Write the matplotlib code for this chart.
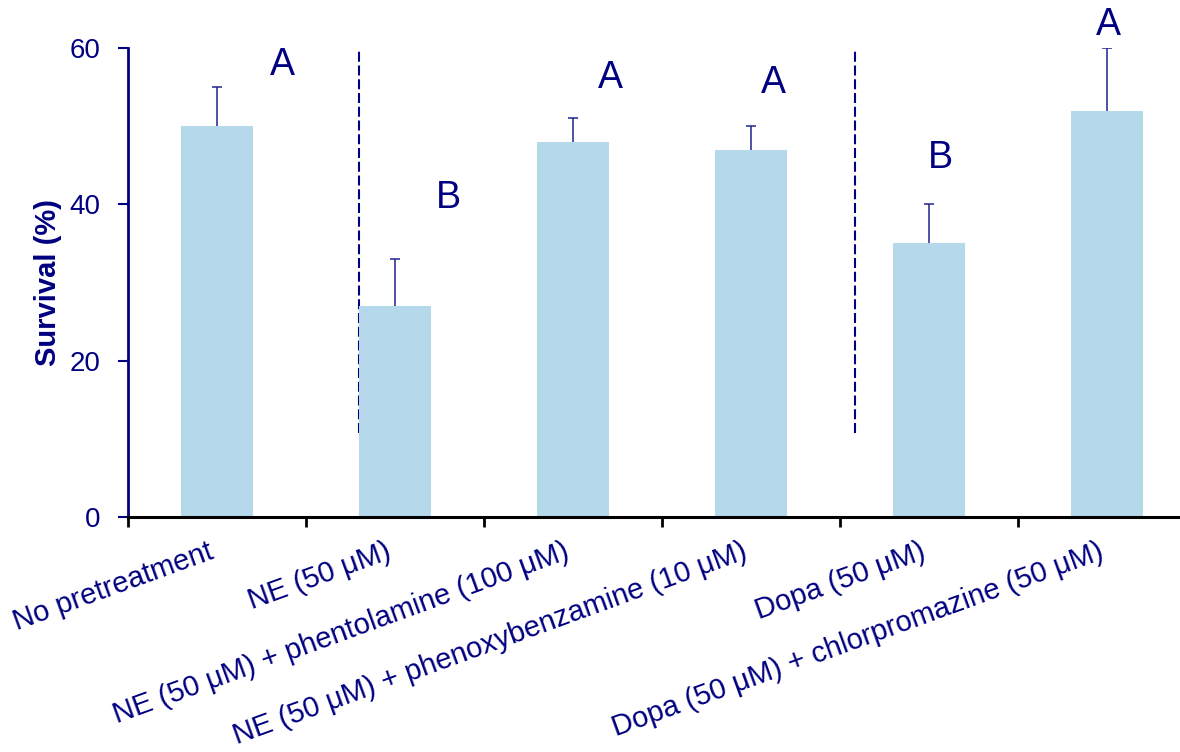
import matplotlib
matplotlib.use("Agg")
import matplotlib.pyplot as plt
import numpy as np

plt.rcParams['font.family'] = ['Liberation Sans', 'DejaVu Sans']

# Data
categories = [
    "No pretreatment",
    "NE (50 μM)",
    "NE (50 μM) + phentolamine (100 μM)",
    "NE (50 μM) + phenoxybenzamine (10 μM)",
    "Dopa (50 μM)",
    "Dopa (50 μM) + chlorpromazine (50 μM)",
]
survival = [50, 27, 48, 47, 35, 52]
error_upper = [5, 6, 3, 3, 5, 8]
letters = ["A", "B", "A", "A", "B", "A"]
letter_y = [57.8, 40.8, 56.2, 55.5, 45.9, 62.9]
yticks = [0, 20, 40, 60]

# Layout
letter_dx = [0.365, 0.298, 0.208, 0.124, 0.062, 0.006]
separators_x = [0.80, 3.585]
separator_ymin, separator_ymax = 10.7, 60

NAVY = "#000080"
BAR = "#b6d8eb"

fig = plt.figure(figsize=(11.8, 7.52), dpi=100)
ax = fig.add_axes([128 / 1180, 235 / 752, 1068 / 1180, 469 / 752])

x = np.arange(len(categories))
ax.bar(x, survival, width=0.40, color=BAR, edgecolor="none", zorder=2)
eb = ax.errorbar(x, survival, yerr=[np.zeros(len(x)), error_upper], fmt="none",
                 ecolor="#22228f", elinewidth=1.1, capsize=3.5, capthick=1.1,
                 zorder=3)
# only the upper cap is shown
eb[1][0].set_visible(False)

for xi, dx, yy, lab in zip(x, letter_dx, letter_y, letters):
    ax.text(xi + dx, yy, lab, ha="center", va="center", fontsize=27, color=NAVY)

for sx in separators_x:
    ax.plot([sx, sx], [separator_ymin, separator_ymax], color=NAVY, lw=1.5,
            linestyle=(0, (4.8, 1.8)), zorder=1)

ax.set_xlim(-0.5, len(categories) - 0.5)
ax.set_ylim(0, 60)
ax.set_yticks(yticks)
ax.set_xticks(np.arange(len(categories) + 1) - 0.5)
ax.set_xticklabels([])
ax.set_xticks(x, minor=True)
ax.set_xticklabels(categories, minor=True, rotation=20, ha="right",
                   fontsize=21, color=NAVY)
ax.tick_params(axis="x", which="minor", length=0, pad=15)
ax.tick_params(axis="x", which="major", direction="out", length=7, width=2,
               color="black")
ax.tick_params(axis="y", direction="out", length=7, width=1.5, color=NAVY,
               labelcolor=NAVY, labelsize=20, pad=13)

for side in ("top", "right"):
    ax.spines[side].set_visible(False)
ax.spines["left"].set_color(NAVY)
ax.spines["left"].set_linewidth(2)
ax.spines["bottom"].set_color("black")
ax.spines["bottom"].set_linewidth(2.2)

ax.set_ylabel("Survival (%)", fontsize=21, fontweight="bold", color=NAVY,
              labelpad=5)

fig.savefig("out.png", dpi=100)
